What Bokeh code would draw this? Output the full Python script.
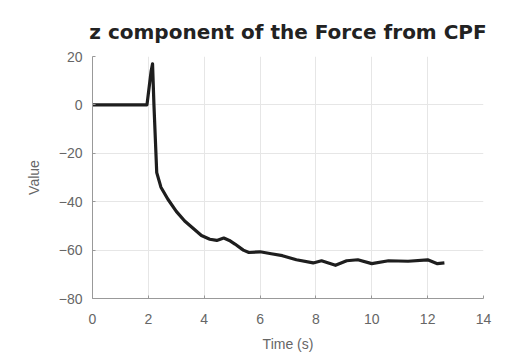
from bokeh.plotting import figure
from bokeh.models import Range1d, FixedTicker
from bokeh.embed import file_html
from bokeh.resources import INLINE

time_s = [0, 1.95, 2.1, 2.15, 2.2, 2.3, 2.45, 2.7, 3.0, 3.3, 3.6, 3.9, 4.2, 4.45, 4.7, 4.9,
          5.1, 5.4, 5.6, 6.0, 6.4, 6.8, 7.3, 7.9, 8.2, 8.7, 9.1, 9.5, 10.0, 10.6, 11.3,
          12.0, 12.35, 12.6]
force_z = [0, 0, 14, 17, 0, -28, -34, -39, -44, -48, -51, -54, -55.5, -56, -55, -56,
           -57.5, -60, -61, -60.7, -61.5, -62.3, -64, -65.3, -64.4, -66.3, -64.4, -64,
           -65.6, -64.4, -64.6, -64, -65.6, -65.3]
x_ticks = [0, 2, 4, 6, 8, 10, 12, 14]
y_ticks = [-80, -60, -40, -20, 0, 20]

p = figure(width=517, height=358, output_backend="svg", toolbar_location=None,
           x_range=Range1d(0, 14), y_range=Range1d(-80, 20),
           min_border_left=92, min_border_right=34, min_border_top=56, min_border_bottom=60)
p.title.text = "z component of the Force from CPF"
p.title.align = "center"
p.title.text_font = "DejaVu Sans"
p.title.text_font_style = "bold"
p.title.text_font_size = "20px"
p.title.text_color = "#222222"
p.title.offset = 0
p.title.standoff = 25

p.line(time_s, force_z, line_color="#1e1e1e", line_width=3.2, line_join="round")

p.outline_line_color = None
p.background_fill_color = "white"
p.border_fill_color = "white"

p.xaxis.ticker = FixedTicker(ticks=x_ticks)
p.yaxis.ticker = FixedTicker(ticks=y_ticks)
for ax in (p.xaxis[0], p.yaxis[0]):
    ax.axis_line_color = "#999999"
    ax.major_tick_line_color = "#999999"
    ax.major_tick_in = 3
    ax.major_tick_out = 0
    ax.minor_tick_line_color = None
    ax.major_label_text_font = "Liberation Sans"
    ax.major_label_text_font_size = "14px"
    ax.major_label_text_color = "#666666"
    ax.axis_label_text_font = "Liberation Sans"
    ax.axis_label_text_font_size = "14px"
    ax.axis_label_text_color = "#666666"
    ax.axis_label_text_font_style = "normal"
p.xaxis.major_label_standoff = 15
p.yaxis.major_label_standoff = 10
p.xaxis.axis_label = "Time (s)"
p.yaxis.axis_label = "Value"
p.xaxis.axis_label_standoff = 9
p.yaxis.axis_label_standoff = 14

p.xgrid.grid_line_color = "#e6e6e6"
p.ygrid.grid_line_color = "#e6e6e6"

open("out.html", "w").write(file_html(p, INLINE))
